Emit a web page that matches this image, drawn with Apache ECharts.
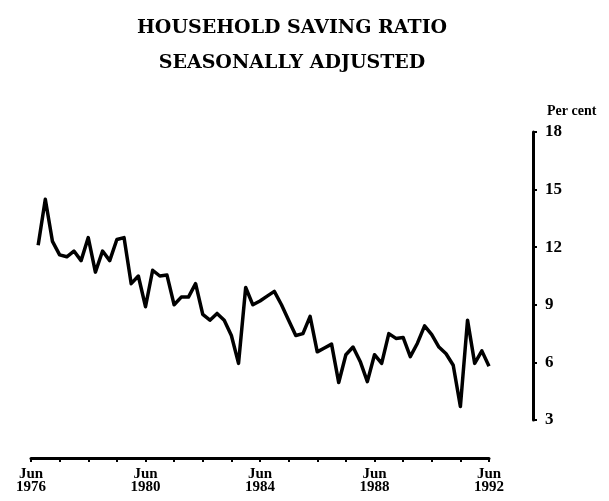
<!DOCTYPE html>
<html>
<head>
<meta charset="utf-8">
<script src="https://cdn.jsdelivr.net/npm/echarts@6/dist/echarts.min.js"></script>
<style>
  html, body { margin: 0; padding: 0; background: #fff; }
  #chart { width: 609px; height: 501px; }
</style>
</head>
<body>
<div id="chart"></div>
<script>
  // quarter ends, Jun 1976 .. Jun 1992
  var months = ['Jun', 'Sep', 'Dec', 'Mar']
  var quarters = []
  for (var q = 0; q <= 64; q++) {
    var m = q % 4
    var yr = 1976 + Math.floor((q + 2) / 4)
    quarters.push(months[m] + ' ' + yr)
  }
  var yearTicks = [3, 6, 9, 12, 15, 18]
  // household saving ratio, per cent, from Sep 1976
  var saving = [
    12.1, 14.5, 12.3, 11.6, 11.5, 11.8, 11.3, 12.5, 10.7, 11.8,
    11.3, 12.4, 12.5, 10.1, 10.5, 8.9, 10.8, 10.5, 10.55, 9.0,
    9.4, 9.4, 10.1, 8.5, 8.2, 8.55, 8.2, 7.4, 5.95, 9.9,
    9.0, 9.2, 9.45, 9.7, 9.0, 8.2, 7.4, 7.5, 8.4, 6.55,
    6.75, 6.95, 4.95, 6.4, 6.8, 6.05, 5.0, 6.4, 5.95, 7.5,
    7.25, 7.3, 6.3, 7.0, 7.9, 7.45, 6.8, 6.45, 5.85, 3.7,
    8.2, 5.95, 6.6, 5.8
  ]

  var chart = echarts.init(document.getElementById('chart'))
  var serif = 'DejaVu Serif'
  var option = {
    animation: false,
    title: [
      {
        text: 'HOUSEHOLD SAVING RATIO',
        left: 287,
        textAlign: 'center',
        top: 14,
        textStyle: { fontFamily: serif, fontWeight: 'bold', fontSize: 19, color: '#000' }
      },
      {
        text: 'SEASONALLY ADJUSTED',
        left: 287,
        textAlign: 'center',
        top: 49,
        textStyle: { fontFamily: serif, fontWeight: 'bold', fontSize: 19, color: '#000' }
      }
    ],
    grid: { left: 31, right: 120, top: 132, bottom: 81 },
    xAxis: {
      type: 'category',
      data: quarters,
      boundaryGap: false,
      offset: 38,
      axisLine: { lineStyle: { color: '#000', width: 3 } },
      axisTick: {
        interval: function (idx) { return idx % 4 === 0 },
        length: 4,
        lineStyle: { color: '#000', width: 2 }
      },
      axisLabel: {
        interval: function (idx) { return idx % 16 === 0 },
        formatter: function (v) { return v.replace(' ', '\n') },
        margin: 10,
        color: '#000',
        fontFamily: 'Liberation Serif',
        fontWeight: 'bold',
        fontSize: 15,
        lineHeight: 13
      },
      splitLine: { show: false }
    },
    yAxis: {
      type: 'value',
      position: 'right',
      offset: 44,
      min: 3,
      max: 18,
      interval: 3,
      name: 'Per cent',
      nameLocation: 'end',
      nameGap: 14,
      nameTextStyle: {
        align: 'left',
        padding: [0, 0, 0, 14],
        color: '#000',
        fontFamily: 'Liberation Serif',
        fontWeight: 'bold',
        fontSize: 14
      },
      axisLine: { show: true, lineStyle: { color: '#000', width: 3 } },
      axisTick: { show: true, length: 4, lineStyle: { color: '#000', width: 2 } },
      axisLabel: {
        margin: 12,
        color: '#000',
        fontFamily: 'Liberation Serif',
        fontWeight: 'bold',
        fontSize: 17,
        formatter: function (v) { return yearTicks.indexOf(v) >= 0 ? v : '' }
      },
      splitLine: { show: false }
    },
    series: [
      {
        type: 'line',
        data: ['-'].concat(saving),
        symbol: 'none',
        lineStyle: { color: '#000', width: 3.5, join: 'round' }
      }
    ]
  }
  chart.setOption(option)
</script>
</body>
</html>
